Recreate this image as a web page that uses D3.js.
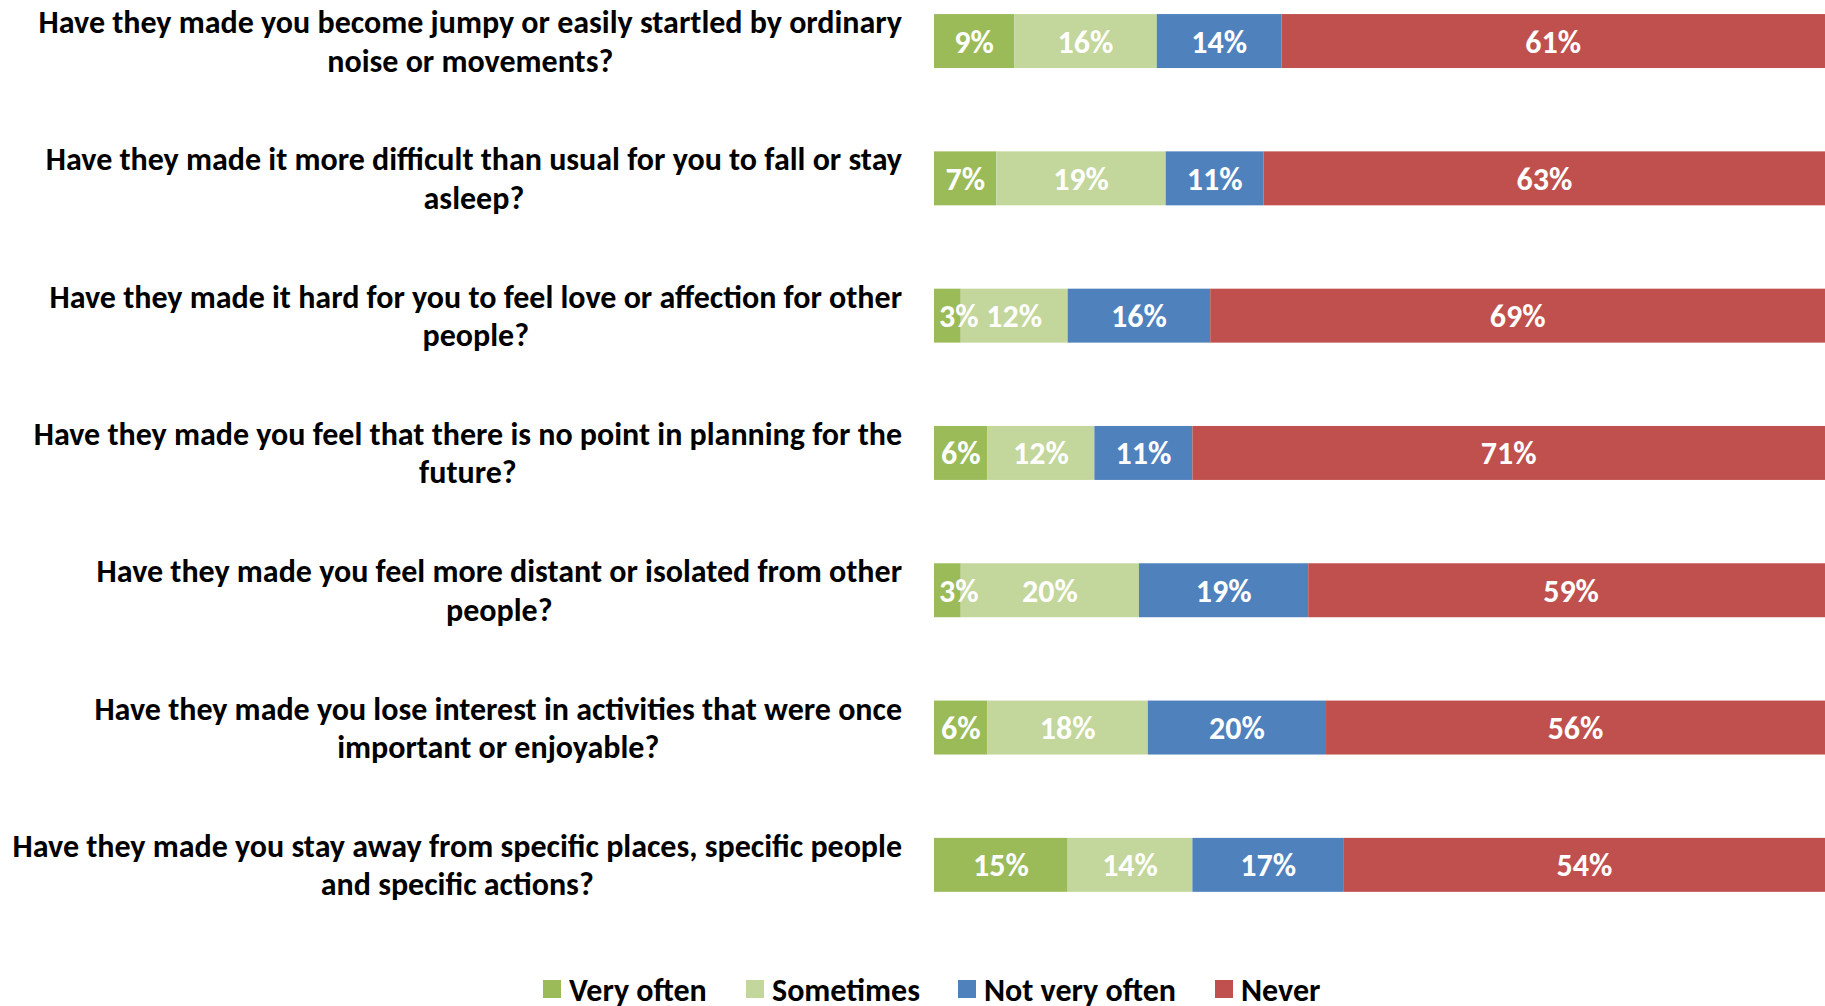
<!DOCTYPE html>
<html>
<head>
<meta charset="utf-8">
<script src="https://cdn.jsdelivr.net/npm/d3@7"></script>
<style>
  html, body { margin: 0; padding: 0; background: #ffffff; overflow: hidden; }
  svg { display: block; }
</style>
</head>
<body>
<svg id="chart" width="1825" height="1006"></svg>
<script>
const categories = [
  "Have they made you become jumpy or easily startled by ordinary\nnoise or movements?",
  "Have they made it more difficult than usual for you to fall or stay\nasleep?",
  "Have they made it hard for you to feel love or affection for other\npeople?",
  "Have they made you feel that there is no point in planning for the\nfuture?",
  "Have they made you feel more distant or isolated from other\npeople?",
  "Have they made you lose interest in activities that were once\nimportant or enjoyable?",
  "Have they made you stay away from specific places, specific people\nand specific actions?"
];
const seriesNames = ["Very often", "Sometimes", "Not very often", "Never"];
const veryOften    = [9, 7, 3, 6, 3, 6, 15];
const sometimes    = [16, 19, 12, 12, 20, 18, 14];
const notVeryOften = [14, 11, 16, 11, 19, 20, 17];
const never        = [61, 63, 69, 71, 59, 56, 54];
const colors = ["#9BBB59", "#C3D69B", "#4F81BD", "#C0504D"];

const FONT = "Carlito, Calibri, Lato, sans-serif";

const svg = d3.select("#chart");

const seriesValues = [veryOften, sometimes, notVeryOften, never];
const rows = categories.map((c, i) => {
  const o = { cat: c };
  seriesNames.forEach((s, j) => o[s] = seriesValues[j][i]);
  return o;
});
const stack = d3.stack().keys(seriesNames)(rows);

const x = d3.scaleLinear().domain([0, 100]).range([934, 1825]);
const y = d3.scaleBand().domain(categories).range([-27.6, 933.5]).paddingInner(0.607).paddingOuter(0.3035);

// bars
const layer = svg.append("g").selectAll("g").data(stack).join("g")
  .attr("fill", (d, i) => colors[i]);
layer.selectAll("rect").data(d => d).join("rect")
  .attr("x", d => x(d[0]))
  .attr("y", d => y(d.data.cat))
  .attr("width", d => x(d[1]) - x(d[0]))
  .attr("height", y.bandwidth());

// data labels
const lab = svg.append("g")
  .attr("font-family", FONT).attr("font-weight", "bold").attr("font-size", 32)
  .attr("fill", "#ffffff").attr("text-anchor", "middle");
stack.forEach((s, si) => {
  s.forEach(d => {
    const v = d[1] - d[0];
    const t = lab.append("text")
      .attr("y", y(d.data.cat) + y.bandwidth() / 2)
      .attr("dy", "0.36em")
      .text(v + "%");
    const w = t.node().getComputedTextLength();
    const segW = x(d[1]) - x(d[0]);
    let cx = (x(d[0]) + x(d[1])) / 2;
    if (w + 6 > segW) cx = Math.max(cx, x(d[0]) + w / 2 + 5);
    t.attr("x", cx);
  });
});

// category labels (right-aligned block, centered lines)
const catG = svg.append("g")
  .attr("font-family", FONT).attr("font-weight", "bold").attr("font-size", 32)
  .attr("fill", "#000000").attr("text-anchor", "middle");
const lineH = 38.5;
const blockRight = 902;
categories.forEach(c => {
  const lines = c.split("\n");
  const t = catG.append("text");
  const cy = y(c) + y.bandwidth() / 2;
  const tsp = lines.map((ln, k) => t.append("tspan")
    .attr("y", cy + (k - (lines.length - 1) / 2) * lineH)
    .attr("dy", "0.35em")
    .text(ln));
  const bw = d3.max(tsp, s => s.node().getComputedTextLength());
  tsp.forEach(s => s.attr("x", blockRight - bw / 2));
});

// legend
const legendX = [543, 746, 958, 1215];
const leg = svg.append("g").attr("font-family", FONT).attr("font-weight", "bold").attr("font-size", 32);
seriesNames.forEach((s, i) => {
  const g = leg.append("g").attr("transform", `translate(${legendX[i]},980)`);
  g.append("rect").attr("width", 18).attr("height", 18).attr("fill", colors[i]);
  g.append("text").attr("x", 26).attr("y", 9).attr("dy", "0.36em").attr("fill", "#000").text(s);
});
</script>
</body>
</html>
